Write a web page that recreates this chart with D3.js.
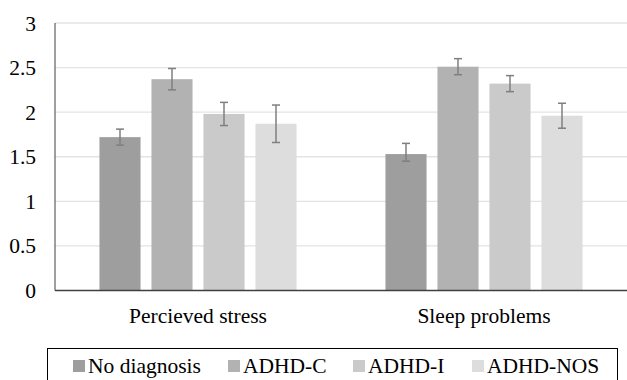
<!DOCTYPE html>
<html>
<head>
    <meta charset="utf-8">
    <script src="https://d3js.org/d3.v7.min.js"></script>
    <style>
        body { margin: 0; background: #fff; }
    </style>
</head>
<body>
    <script>
        var categories = ["Percieved stress", "Sleep problems"];
        var series = ["No diagnosis", "ADHD-C", "ADHD-I", "ADHD-NOS"];
        var colors = ["#9d9e9d", "#b1b2b1", "#c9cac9", "#dcdddc"];
        // mean values per category, one entry per series
        var means = [
            [1.72, 2.37, 1.98, 1.87],
            [1.53, 2.51, 2.32, 1.96]
        ];
        var errLow = [
            [1.63, 2.25, 1.85, 1.66],
            [1.45, 2.42, 2.23, 1.82]
        ];
        var errHigh = [
            [1.81, 2.49, 2.11, 2.08],
            [1.65, 2.60, 2.41, 2.10]
        ];
        var yTicks = [0, 0.5, 1, 1.5, 2, 2.5, 3];

        var width = 627;
        var height = 380;
        var margin = { left: 55, right: 0, top: 23, bottom: 89.5 };
        var font = "'Liberation Serif', 'Times New Roman', Times, serif";
        var fontSize = "21.5px";

        var svg = d3.select("body").append("svg")
            .attr("width", width)
            .attr("height", height)
            .style("font-family", font);

        var x0 = d3.scaleBand()
            .domain(categories)
            .range([margin.left, width - margin.right]);

        var x1 = d3.scaleBand()
            .domain(series)
            .range([0, x0.bandwidth()])
            .paddingInner(0.21)
            .paddingOuter(0.855);

        var y = d3.scaleLinear()
            .domain([0, 3])
            .range([height - margin.bottom, margin.top]);

        // gridlines
        svg.append("g")
            .selectAll("line")
            .data(yTicks.slice(1))
            .enter().append("line")
            .attr("x1", margin.left)
            .attr("x2", width - margin.right)
            .attr("y1", function(d) { return y(d); })
            .attr("y2", function(d) { return y(d); })
            .style("stroke", "#e3e3e3")
            .style("stroke-width", 1.3);

        // tick labels
        svg.append("g")
            .selectAll("text")
            .data(yTicks)
            .enter().append("text")
            .attr("x", 36)
            .attr("y", function(d) { return y(d); })
            .attr("dy", "0.35em")
            .attr("text-anchor", "end")
            .style("font-family", font)
            .style("font-size", fontSize)
            .text(function(d) { return d; });

        var rows = [];
        categories.forEach(function(c, i) {
            series.forEach(function(s, j) {
                rows.push({ cat: c, ser: s, v: means[i][j], lo: errLow[i][j], hi: errHigh[i][j], color: colors[j] });
            });
        });

        svg.append("g")
            .selectAll("rect")
            .data(rows)
            .enter().append("rect")
            .attr("x", function(d) { return x0(d.cat) + x1(d.ser); })
            .attr("y", function(d) { return y(d.v); })
            .attr("width", x1.bandwidth())
            .attr("height", function(d) { return y(0) - y(d.v); })
            .style("fill", function(d) { return d.color; });

        // error bars
        var err = svg.append("g")
            .selectAll("g")
            .data(rows)
            .enter().append("g")
            .style("stroke", "#7f7f7f")
            .style("stroke-width", 1.5);

        function cx(d) { return x0(d.cat) + x1(d.ser) + x1.bandwidth() / 2; }

        err.append("line")
            .attr("x1", cx).attr("x2", cx)
            .attr("y1", function(d) { return y(d.lo); })
            .attr("y2", function(d) { return y(d.hi); });
        err.append("line")
            .attr("x1", function(d) { return cx(d) - 4; })
            .attr("x2", function(d) { return cx(d) + 4; })
            .attr("y1", function(d) { return y(d.lo); })
            .attr("y2", function(d) { return y(d.lo); });
        err.append("line")
            .attr("x1", function(d) { return cx(d) - 4; })
            .attr("x2", function(d) { return cx(d) + 4; })
            .attr("y1", function(d) { return y(d.hi); })
            .attr("y2", function(d) { return y(d.hi); });

        // axes lines
        svg.append("line")
            .attr("x1", margin.left).attr("x2", margin.left)
            .attr("y1", y(3)).attr("y2", y(0))
            .style("stroke", "#404040")
            .style("stroke-width", 1);
        svg.append("line")
            .attr("x1", margin.left).attr("x2", width - margin.right)
            .attr("y1", y(0)).attr("y2", y(0))
            .style("stroke", "#404040")
            .style("stroke-width", 1.3);

        // category labels
        svg.append("g")
            .selectAll("text")
            .data(categories)
            .enter().append("text")
            .attr("x", function(d) { return x0(d) + x0.bandwidth() / 2; })
            .attr("y", 323)
            .attr("text-anchor", "middle")
            .style("font-family", font)
            .style("font-size", fontSize)
            .text(function(d) { return d; });

        // legend
        svg.append("rect")
            .attr("x", 47.5).attr("y", 348.5)
            .attr("width", 570).attr("height", 40)
            .style("fill", "none")
            .style("stroke", "#000")
            .style("stroke-width", 1);

        var legendX = [73, 228, 353, 472];
        var leg = svg.append("g")
            .selectAll("g")
            .data(series)
            .enter().append("g")
            .attr("transform", function(d, i) { return "translate(" + legendX[i] + ",0)"; });
        leg.append("rect")
            .attr("x", 0).attr("y", 360)
            .attr("width", 12).attr("height", 12)
            .style("fill", function(d, i) { return colors[i]; });
        leg.append("text")
            .attr("x", 15).attr("y", 373)
            .style("font-family", font)
            .style("font-size", fontSize)
            .text(function(d) { return d; });
    </script>
</body>
</html>
